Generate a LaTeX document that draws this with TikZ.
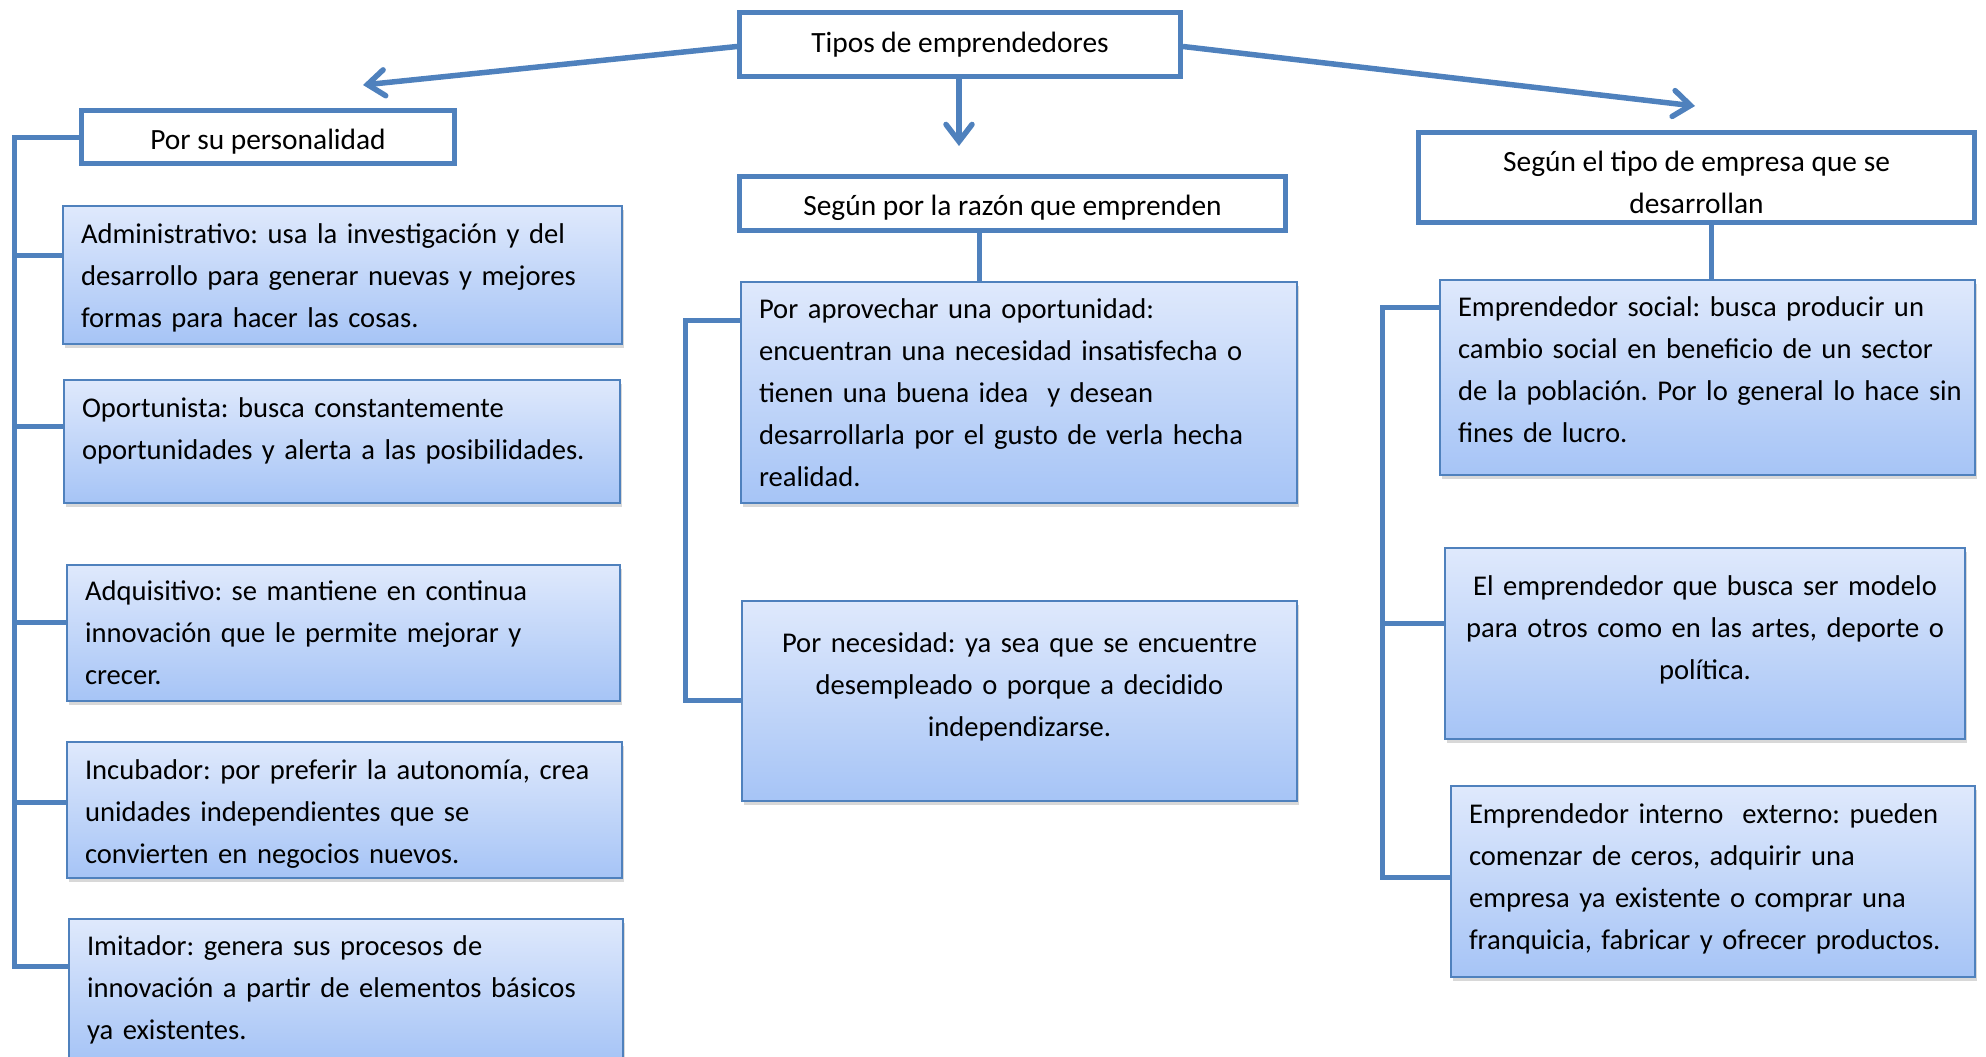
\documentclass[tikz,border=0pt]{standalone}
\usepackage{fontspec}
\setmainfont{Carlito}
\usepackage{xcolor}
\usetikzlibrary{arrows.meta, shadows}

\definecolor{azul}{HTML}{4F81BD}
\definecolor{claro}{HTML}{DFE9FC}
\definecolor{medio}{HTML}{A6C4F6}

\newcommand{\hueco}[1]{\rule[-#1]{0pt}{0pt}}
\newcommand{\alto}[1]{\rule{0pt}{#1}}
\frenchspacing

\tikzset{
	titulo/.style={draw=azul, line width=5pt, fill=white, align=center, inner sep=0pt},
	tipo/.style={draw=azul, line width=2pt, top color=claro, bottom color=medio, drop shadow={shadow xshift=2pt, shadow yshift=-4pt, fill=black!30}, align=left, inner xsep=17pt, inner ysep=0pt, font=\fontsize{28.6}{42}\selectfont},
	linea/.style={azul, line width=5pt},
	flecha/.style={azul, line width=5.5pt, -{Straight Barb[length=17pt, width=26pt, line cap=round]}}
}

\begin{document}
\begin{tikzpicture}[x=1pt, y=-1pt, font=\fontsize{29.4}{42}\selectfont]
		\useasboundingbox (0,0) rectangle (1986,1057);
		
		\node[titulo, minimum width=441pt, minimum height=64pt] (tipos) at (960,44.5) {Tipos de emprendedores};
		\node[titulo, minimum width=373pt, minimum height=53pt] (pers) at (268,137) {\alto{30pt}Por su personalidad};
		\node[titulo, minimum width=546pt, minimum height=54pt] (razon) at (1012.5,203.5) {\alto{30pt}Según por la razón que emprenden};
		\node[titulo, minimum width=556pt, minimum height=90pt] (empresa) at (1696.5,177.5) {\alto{30pt}Según el tipo de empresa que se\\desarrollan};
		
		\node[tipo, minimum width=559pt, minimum height=138pt, text width=523pt] (adm) at (342.5,275) {\alto{26pt}Administrativo: usa la investigación y del\\desarrollo para generar nuevas y mejores\\formas para hacer las cosas.};
		\node[tipo, minimum width=556pt, minimum height=123pt, text width=520pt] (opo) at (342,441.5) {Oportunista: busca constantemente\\oportunidades y alerta a las posibilidades.\hueco{25pt}};
		\node[tipo, minimum width=553pt, minimum height=136pt, text width=517pt] (adq) at (343.5,633) {Adquisitivo: se mantiene en continua\\innovación que le permite mejorar y\\crecer.};
		\node[tipo, minimum width=555pt, minimum height=136pt, text width=519pt] (inc) at (344.5,810) {\alto{28pt}Incubador: por preferir la autonomía, crea\\unidades independientes que se\\convierten en negocios nuevos.};
		\node[tipo, minimum width=554pt, minimum height=142pt, text width=518pt] (imi) at (346,990) {Imitador: genera sus procesos de\\innovación a partir de elementos básicos\\ya existentes.};
		
		\node[tipo, minimum width=556pt, minimum height=221pt, text width=520pt] (apro) at (1019,392.5) {Por aprovechar una oportunidad:\\encuentran una necesidad insatisfecha o\\tienen una buena idea\ \ y desean\\desarrollarla por el gusto de verla hecha\\realidad.};
		\node[tipo, align=center, minimum width=555pt, minimum height=200pt, text width=519pt] (nec) at (1019.5,701) {Por necesidad: ya sea que se encuentre\\desempleado o porque a decidido\\independizarse.\hueco{33pt}};
		
		\node[tipo, minimum width=535pt, minimum height=195pt, text width=499pt] (soc) at (1707.5,377.5) {Emprendedor social: busca producir un\\cambio social en beneficio de un sector\\\mbox{de la población. Por lo general lo hace sin}\\fines de lucro.\hueco{15pt}};
		\node[tipo, align=center, minimum width=520pt, minimum height=191pt, text width=484pt] (mod) at (1705,643.5) {El emprendedor que busca ser modelo\\para otros como en las artes, deporte o\\política.\hueco{31pt}};
		\node[tipo, minimum width=524pt, minimum height=191pt, text width=488pt] (interno) at (1713,881.5) {Emprendedor interno\ \ externo: pueden\\comenzar de ceros, adquirir una\\empresa ya existente o comprar una\\franquicia, fabricar y ofrecer productos.\hueco{9pt}};
		
		\coordinate (fizq) at (363,85);
		\coordinate (fcen) at (959,146);
		\coordinate (fder) at (1695,106);
		\draw[flecha] ([yshift=-2pt]tipos.west) -- (fizq);
		\draw[flecha] ([xshift=-1pt]tipos.south) -- (fcen);
		\draw[flecha] ([yshift=-2pt]tipos.east) -- (fder);
		
		\coordinate (bi) at (14,966);
		\draw[linea] (pers.west) -| (bi) -- (imi.west |- bi);
		\foreach \n/\d in {adm/20, opo/15, adq/11, inc/8}
			\draw[linea] ([yshift=\d pt]\n.west) -| (bi);
		
		\coordinate (bm) at (685,700);
		\draw[linea] ([xshift=-33pt]razon.south) -- ([xshift=-33pt]razon.south |- apro.north);
		\draw[linea] ([yshift=72pt]apro.west) -| (bm) -- (nec.west |- bm);
		
		\coordinate (bd) at (1382,877);
		\draw[linea] ([xshift=15pt]empresa.south) -- ([xshift=15pt]empresa.south |- soc.north);
		\draw[linea] ([yshift=70pt]soc.west) -| (bd) -- (interno.west |- bd);
		\draw[linea] ([yshift=20pt]mod.west) -| (bd);
	\end{tikzpicture}
\end{document}
